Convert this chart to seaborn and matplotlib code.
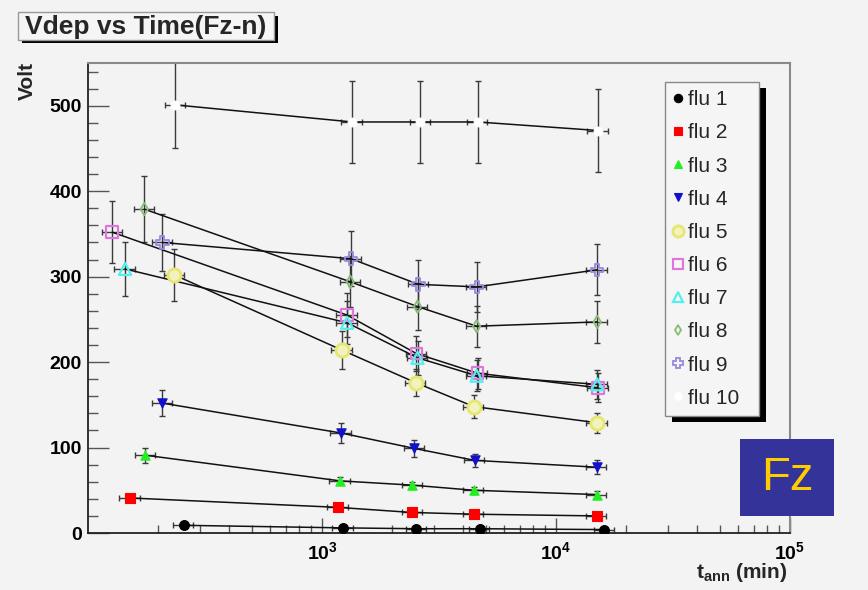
import numpy as np
import pandas as pd
import matplotlib
matplotlib.use("Agg")
import matplotlib.pyplot as plt
from matplotlib.patches import Rectangle
from matplotlib.lines import Line2D
from matplotlib.ticker import MultipleLocator, LogLocator, NullFormatter
import seaborn as sns

# ---------------- data ----------------
series = ["flu 1", "flu 2", "flu 3", "flu 4", "flu 5",
          "flu 6", "flu 7", "flu 8", "flu 9", "flu 10"]

t1 = [256, 1230, 2530, 4720, 16100]
v1 = [9, 6, 5, 5, 4]
e1 = [2, 2, 2, 2, 2]
t2 = [151, 1170, 2430, 4450, 14900]
v2 = [41, 30, 24, 22, 20]
e2 = [3, 3, 3, 3, 3]
t3 = [176, 1195, 2430, 4450, 14900]
v3 = [91, 61, 56, 50, 45]
e3 = [9, 4, 4, 4, 4]
t4 = [208, 1207, 2480, 4490, 14900]
v4 = [152, 117, 99, 85, 77]
e4 = [15, 12, 10, 8, 8]
t5 = [234, 1218, 2510, 4450, 15000]
v5 = [302, 214, 176, 148, 129]
e5 = [30, 22, 16, 14, 12]
t6 = [127, 1280, 2530, 4620, 15100]
v6 = [352, 255, 210, 187, 170]
e6 = [36, 26, 20, 18, 17]
t7 = [144, 1280, 2560, 4580, 15000]
v7 = [309, 246, 205, 184, 174]
e7 = [32, 25, 20, 18, 17]
t8 = [174, 1320, 2560, 4580, 15000]
v8 = [379, 294, 265, 242, 247]
e8 = [39, 30, 27, 24, 25]
t9 = [208, 1330, 2580, 4580, 15000]
v9 = [340, 321, 291, 288, 308]
e9 = [33, 32, 29, 29, 30]
t10 = [236, 1345, 2630, 4620, 15100]
v10 = [501, 481, 481, 481, 471]
e10 = [50, 48, 48, 48, 48]

x_rel_err = 0.10  # horizontal error, fraction of t

T = [t1, t2, t3, t4, t5, t6, t7, t8, t9, t10]
V = [v1, v2, v3, v4, v5, v6, v7, v8, v9, v10]
E = [e1, e2, e3, e4, e5, e6, e7, e8, e9, e10]

xticks_major = [1e3, 1e4, 1e5]
xtick_labels = [r"$\mathbf{10^{3}}$", r"$\mathbf{10^{4}}$", r"$\mathbf{10^{5}}$"]
yticks_major = [0, 100, 200, 300, 400, 500]

# ---------------- styles ----------------
# (marker, facecolor, edgecolor, size s, edge width)
styles = {
    "flu 1": ("o", "black", "black", 50, 0.8),
    "flu 2": ("s", "#ff0000", "#ff0000", 45, 0.8),
    "flu 3": ("^", "#22ee22", "#22ee22", 45, 0.8),
    "flu 4": ("v", "#1111cc", "#1111cc", 45, 0.8),
    "flu 5": ("o", "#f2f2c0", "#e6e670", 90, 2.0),
    "flu 6": ("s", "none", "#dd77dd", 70, 1.6),
    "flu 7": ("^", "none", "#55eeee", 75, 1.6),
    "flu 8": ("d", "none", "#88bb77", 40, 1.3),
    "flu 9": ("P", "none", "#9988dd", 80, 1.3),
    "flu 10": ("o", "white", "white", 40, 0.8),
}

BG = "#f3f3f3"
W, H = 868, 590

sns.set_theme(style="ticks")
plt.rcParams["font.family"] = ["Liberation Sans", "DejaVu Sans"]
plt.rcParams["mathtext.fontset"] = "custom"
plt.rcParams["mathtext.rm"] = "Liberation Sans"
plt.rcParams["mathtext.bf"] = "Liberation Sans:bold"
plt.rcParams["mathtext.it"] = "Liberation Sans:italic"


def fx(x):
    return x / W


def fy(y):
    return 1 - y / H


fig = plt.figure(figsize=(W / 100, H / 100), dpi=100, facecolor=BG)
ax = fig.add_axes([fx(88), fy(533), fx(790) - fx(88), fy(63) - fy(533)])
ax.set_facecolor(BG)

rows = []
for name, t, v, e in zip(series, T, V, E):
    for ti, vi, ei in zip(t, v, e):
        rows.append({"series": name, "t": ti, "V": vi, "err": ei})
df = pd.DataFrame(rows)

# error bars
for name in series:
    d = df[df["series"] == name]
    ax.errorbar(d["t"], d["V"], xerr=x_rel_err * d["t"], yerr=d["err"],
                fmt="none", ecolor="#3a3a3a", elinewidth=1.0,
                capsize=2.5, capthick=1.0, zorder=2)

# connecting lines
sns.lineplot(data=df, x="t", y="V", units="series", estimator=None,
             color="#111111", linewidth=1.1, sort=True, legend=False,
             ax=ax, zorder=3)

# markers
for name in series:
    d = df[df["series"] == name]
    m, fc, ec, s, lw = styles[name]
    sns.scatterplot(x=d["t"].values, y=d["V"].values, marker=m, s=s,
                    color=ec, facecolor=fc, edgecolor=ec, linewidth=lw,
                    ax=ax, zorder=4, legend=False)

ax.set_xscale("log")
ax.set_xlim(100, 1e5)
ax.set_ylim(0, 550)
ax.set_xticks(xticks_major)
ax.set_xticklabels(xtick_labels)
ax.xaxis.set_minor_locator(LogLocator(base=10, subs=np.arange(2, 10)))
ax.xaxis.set_minor_formatter(NullFormatter())
ax.set_yticks(yticks_major)
ax.set_yticklabels([str(v) for v in yticks_major])
ax.yaxis.set_minor_locator(MultipleLocator(20))

for lab in ax.get_yticklabels():
    lab.set_fontweight("bold")
ax.tick_params(axis="y", which="major", direction="in", length=15, width=1.0,
               color="#555555", labelsize=14, pad=4.5, labelcolor="black")
ax.tick_params(axis="y", which="minor", direction="in", length=7, width=1.0,
               color="#555555")
ax.tick_params(axis="x", which="major", direction="in", length=11, width=1.0,
               color="#555555", labelsize=14, pad=6, labelcolor="black")
ax.tick_params(axis="x", which="minor", direction="in", length=6, width=1.0,
               color="#555555")

for side in ["left", "bottom"]:
    ax.spines[side].set_color("#222222")
    ax.spines[side].set_linewidth(1.3)
for side in ["top", "right"]:
    ax.spines[side].set_visible(True)
    ax.spines[side].set_color("#8a8a8a")
    ax.spines[side].set_linewidth(1.5)

ax.set_xlabel(r"$\mathbf{t_{ann}}$ (min)", fontsize=15, fontweight="bold",
              loc="right")
ax.xaxis.set_label_coords(0.997, (533 - 561) / 470)
ax.xaxis.label.set_horizontalalignment("right")
ax.xaxis.label.set_verticalalignment("top")

ax.set_ylabel("Volt", fontsize=15, fontweight="bold", loc="top")
ax.yaxis.set_label_coords((37 - 88) / 702, (533 - 62) / 470)

# ---------------- title box ----------------
fig.add_artist(Rectangle((fx(22), fy(43)), fx(278) - fx(22), fy(16) - fy(43),
                         transform=fig.transFigure, facecolor="black",
                         edgecolor="none", zorder=3))
fig.add_artist(Rectangle((fx(18), fy(40)), fx(274) - fx(18), fy(12) - fy(40),
                         transform=fig.transFigure, facecolor="#f5f5f5",
                         edgecolor="#999999", linewidth=1.0, zorder=3.1))
fig.text(fx(146), fy(27), "Vdep vs Time(Fz-n)", fontsize=19,
         fontweight="bold", ha="center", va="center", zorder=4)

# ---------------- legend box ----------------
fig.add_artist(Rectangle((fx(672), fy(422)), fx(766) - fx(672), fy(88) - fy(422),
                         transform=fig.transFigure, facecolor="black",
                         edgecolor="none", zorder=3))
fig.add_artist(Rectangle((fx(665), fy(416)), fx(759) - fx(665), fy(82) - fy(416),
                         transform=fig.transFigure, facecolor="#f5f5f5",
                         edgecolor="#888888", linewidth=1.0, zorder=3.1))
handles = []
for name in series:
    m, fc, ec, s, lw = styles[name]
    handles.append(Line2D([], [], linestyle="none", marker=m,
                          markersize=np.sqrt(s) * 0.85,
                          markerfacecolor=fc, markeredgecolor=ec,
                          markeredgewidth=lw))
leg = fig.legend(handles, series, loc="upper left",
                 bbox_to_anchor=(fx(665), fy(86)), frameon=False,
                 fontsize=15, handlelength=0.8, handletextpad=0.1,
                 labelspacing=0.68, borderpad=0.2, borderaxespad=0)
leg.set_zorder(5)

# ---------------- Fz box ----------------
fig.add_artist(Rectangle((fx(740), fy(516)), fx(834) - fx(740), fy(439) - fy(516),
                         transform=fig.transFigure, facecolor="#333399",
                         edgecolor="none", zorder=3))
fig.text(fx(787), fy(478), "Fz", color="#ffcc00", fontsize=34,
         ha="center", va="center", zorder=4)

fig.savefig("out.png", dpi=100, facecolor=BG)
